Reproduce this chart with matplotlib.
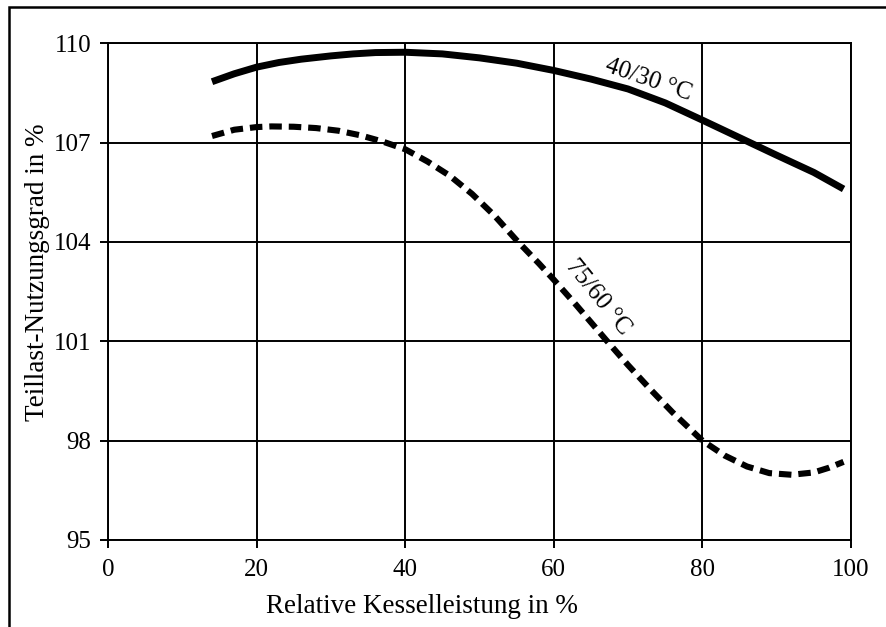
import matplotlib
matplotlib.use("Agg")
import matplotlib.pyplot as plt
from matplotlib.patches import Rectangle

# Data
x_4030 = [14, 17, 20, 23, 26, 30, 33, 36, 40, 45, 50, 55, 60, 65, 70, 75, 80, 85, 90, 95, 99]
y_4030 = [108.84, 109.08, 109.28, 109.42, 109.52, 109.62, 109.68, 109.72, 109.73, 109.68, 109.56, 109.4, 109.18, 108.92, 108.62, 108.2, 107.68, 107.15, 106.62, 106.1, 105.6]

x_7560 = [14, 17, 20, 22, 25, 28, 31, 34, 37, 40, 43, 46, 49, 52, 55, 58, 60, 63, 67, 70, 73, 76, 80, 83, 86, 89, 92, 95, 97, 99]
y_7560 = [107.2, 107.39, 107.47, 107.49, 107.48, 107.44, 107.36, 107.22, 107.03, 106.8, 106.43, 106.0, 105.45, 104.8, 104.05, 103.35, 102.86, 102.1, 101.05, 100.28, 99.55, 98.85, 98.0, 97.55, 97.22, 97.02, 96.97, 97.04, 97.18, 97.36]

x_ticks = [0, 20, 40, 60, 80, 100]
y_ticks = [95, 98, 101, 104, 107, 110]

label_4030 = "40/30 °C"
label_7560 = "75/60 °C"
x_label = "Relative Kesselleistung in %"
y_label = "Teillast-Nutzungsgrad in %"

plt.rcParams['font.family'] = ['Liberation Serif', 'DejaVu Serif']
plt.rcParams['lines.scale_dashes'] = False

fig = plt.figure(figsize=(8.86, 6.27), dpi=100)
ax = fig.add_axes([108/886, 1-540/627, (851-108)/886, (540-43.3)/627])

# outer frame (cropped at right/bottom in the reference)
fig.patches.append(Rectangle((9/886, -0.1), 1.2, 1.1 - 7/627, transform=fig.transFigure,
                             fill=False, edgecolor='black', lw=1.8, zorder=0))

ax.set_xlim(0, 100)
ax.set_ylim(95, 110)
ax.set_xticks(x_ticks)
ax.set_yticks(y_ticks)
ax.grid(True, color='black', lw=1.4)
ax.set_axisbelow(True)
for s in ax.spines.values():
    s.set_linewidth(1.4)
ax.tick_params(direction='out', length=6, width=1.4, labelsize=18, colors='black')
ax.tick_params(axis='x', pad=8)
ax.tick_params(axis='y', pad=6)

ax.plot(x_4030, y_4030, color='black', lw=5, solid_capstyle='butt', zorder=3)
ax.plot(x_7560, y_7560, color='black', lw=4.4, dashes=(9, 5), dash_capstyle='butt', zorder=3)

ax.text(72.7, 108.89, label_4030, rotation=-19, ha='center', va='center', fontsize=18, zorder=4,
        rotation_mode='anchor')
ax.text(65.9, 102.34, label_7560, rotation=-51, ha='center', va='center', fontsize=18, zorder=4,
        rotation_mode='anchor')

ax.set_xlabel(x_label, fontsize=19.5)
ax.set_ylabel(y_label, fontsize=19.5)
ax.xaxis.set_label_coords(0.4226, -0.109)
ax.yaxis.set_label_coords(-0.078, 0.54)

fig.savefig("out.png", dpi=100)
